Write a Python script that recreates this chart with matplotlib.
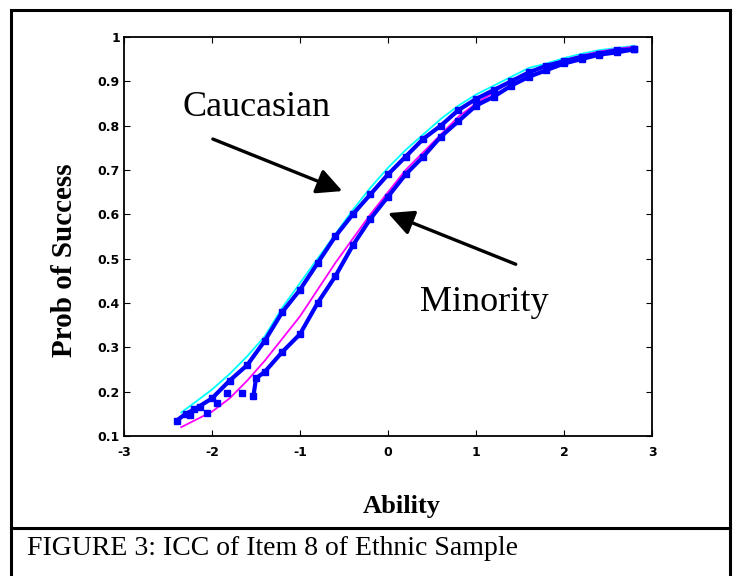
import matplotlib
matplotlib.use("Agg")
import matplotlib.pyplot as plt
from matplotlib.lines import Line2D

# fitted ICC curves (thin lines)
fit_x = [-2.35, -2.2, -2.0, -1.8, -1.6, -1.4, -1.2, -1.0, -0.8, -0.6, -0.4, -0.2, 0.0,
         0.2, 0.4, 0.6, 0.8, 1.0, 1.2, 1.4, 1.6, 1.8, 2.0, 2.2, 2.4, 2.6, 2.8]
cau_fit = [0.153, 0.175, 0.205, 0.24, 0.28, 0.325, 0.39, 0.445, 0.50, 0.555, 0.61, 0.66, 0.705,
           0.745, 0.78, 0.815, 0.845, 0.87, 0.89, 0.91, 0.93, 0.94, 0.952, 0.962, 0.97, 0.975, 0.98]
min_fit = [0.12, 0.135, 0.155, 0.185, 0.225, 0.27, 0.32, 0.37, 0.43, 0.49, 0.545, 0.60, 0.65,
           0.70, 0.74, 0.78, 0.82, 0.85, 0.875, 0.90, 0.92, 0.935, 0.948, 0.958, 0.967, 0.973, 0.978]

# empirical curves (blue dotted)
cau_emp_x = [-2.4, -2.3, -2.2, -2.0, -1.8, -1.6, -1.4, -1.2, -1.0, -0.8, -0.6, -0.4, -0.2, 0.0,
             0.2, 0.4, 0.6, 0.8, 1.0, 1.2, 1.4, 1.6, 1.8, 2.0, 2.2, 2.4, 2.6, 2.8]
cau_emp = [0.135, 0.15, 0.16, 0.185, 0.225, 0.26, 0.315, 0.38, 0.43, 0.49, 0.55, 0.60, 0.645, 0.69,
           0.73, 0.77, 0.80, 0.835, 0.86, 0.88, 0.90, 0.92, 0.935, 0.945, 0.955, 0.962, 0.97, 0.972]
min_emp_x = [-1.53, -1.5, -1.4, -1.2, -1.0, -0.8, -0.6, -0.4, -0.2, 0.0, 0.2, 0.4, 0.6,
             0.8, 1.0, 1.2, 1.4, 1.6, 1.8, 2.0, 2.2, 2.4, 2.6, 2.8]
min_emp = [0.19, 0.23, 0.245, 0.29, 0.33, 0.40, 0.46, 0.53, 0.59, 0.64, 0.69, 0.73, 0.775,
           0.81, 0.845, 0.865, 0.89, 0.91, 0.925, 0.94, 0.95, 0.96, 0.965, 0.972]
tail_x = [-2.25, -2.14, -2.06, -1.94, -1.83, -1.66]
tail_y = [0.147, 0.165, 0.151, 0.174, 0.196, 0.196]

xticks = [-3, -2, -1, 0, 1, 2, 3]
xtick_labels = ["-3", "-2", "-1", "0", "1", "2", "3"]
yticks = [0.1, 0.2, 0.3, 0.4, 0.5, 0.6, 0.7, 0.8, 0.9, 1.0]
ytick_labels = ["0.1", "0.2", "0.3", "0.4", "0.5", "0.6", "0.7", "0.8", "0.9", "1"]

fig = plt.figure(figsize=(7.36, 5.76), dpi=100)
ax = fig.add_axes([0.1685, 0.243, 0.7175, 0.693])

ax.plot(fit_x, cau_fit, color="cyan", lw=1.3)
ax.plot(fit_x, min_fit, color="magenta", lw=1.3)
ax.plot(cau_emp_x, cau_emp, color="blue", lw=3, marker="s", ms=4.5)
ax.plot(min_emp_x, min_emp, color="blue", lw=3, marker="s", ms=4.5)
ax.plot(tail_x, tail_y, ls="none", color="blue", marker="s", ms=4.5)

ax.set_xlim(-3, 3)
ax.set_ylim(0.1, 1.0)
ax.set_xticks(xticks)
ax.set_xticklabels(xtick_labels)
ax.set_yticks(yticks)
ax.set_yticklabels(ytick_labels)
ax.tick_params(direction="in", top=True, right=True, labelsize=9, length=4)
ax.tick_params(axis="x", pad=7)
ax.tick_params(axis="y", pad=3)
for lbl in ax.get_xticklabels() + ax.get_yticklabels():
    lbl.set_fontweight("bold")
for s in ax.spines.values():
    s.set_linewidth(1.3)

serif = "Liberation Serif"
arrow = dict(arrowstyle="-|>,head_length=0.7,head_width=0.35", color="black",
             lw=2.4, mutation_scale=22)
ax.text(-1.5, 0.84, "Caucasian", fontsize=26, family=serif, ha="center", va="center")
ax.annotate("", xy=(-0.49, 0.65), xytext=(-2.02, 0.772), arrowprops=arrow)
ax.text(1.09, 0.40, "Minority", fontsize=26, family=serif, ha="center", va="center")
ax.annotate("", xy=(-0.03, 0.605), xytext=(1.48, 0.485), arrowprops=arrow)

fig.text(0.087, 0.548, "Prob of Success", rotation=90, fontsize=21, fontweight="bold",
         family=serif, ha="center", va="center")
fig.text(0.546, 0.12, "Ability", fontsize=19, fontweight="bold", family=serif,
         ha="center", va="center")
fig.text(0.037, 0.048, "FIGURE 3: ICC of Item 8 of Ethnic Sample", fontsize=20,
         family=serif, ha="left", va="center")

# frame around figure and caption
kw = dict(color="black", lw=2.2, transform=fig.transFigure)
fig.add_artist(Line2D([0.015, 0.015], [-0.01, 0.983], **kw))
fig.add_artist(Line2D([0.992, 0.992], [-0.01, 0.983], **kw))
fig.add_artist(Line2D([0.015, 0.992], [0.983, 0.983], **kw))
fig.add_artist(Line2D([0.015, 0.992], [0.0833, 0.0833], **kw))

fig.savefig("out.png", dpi=100)
